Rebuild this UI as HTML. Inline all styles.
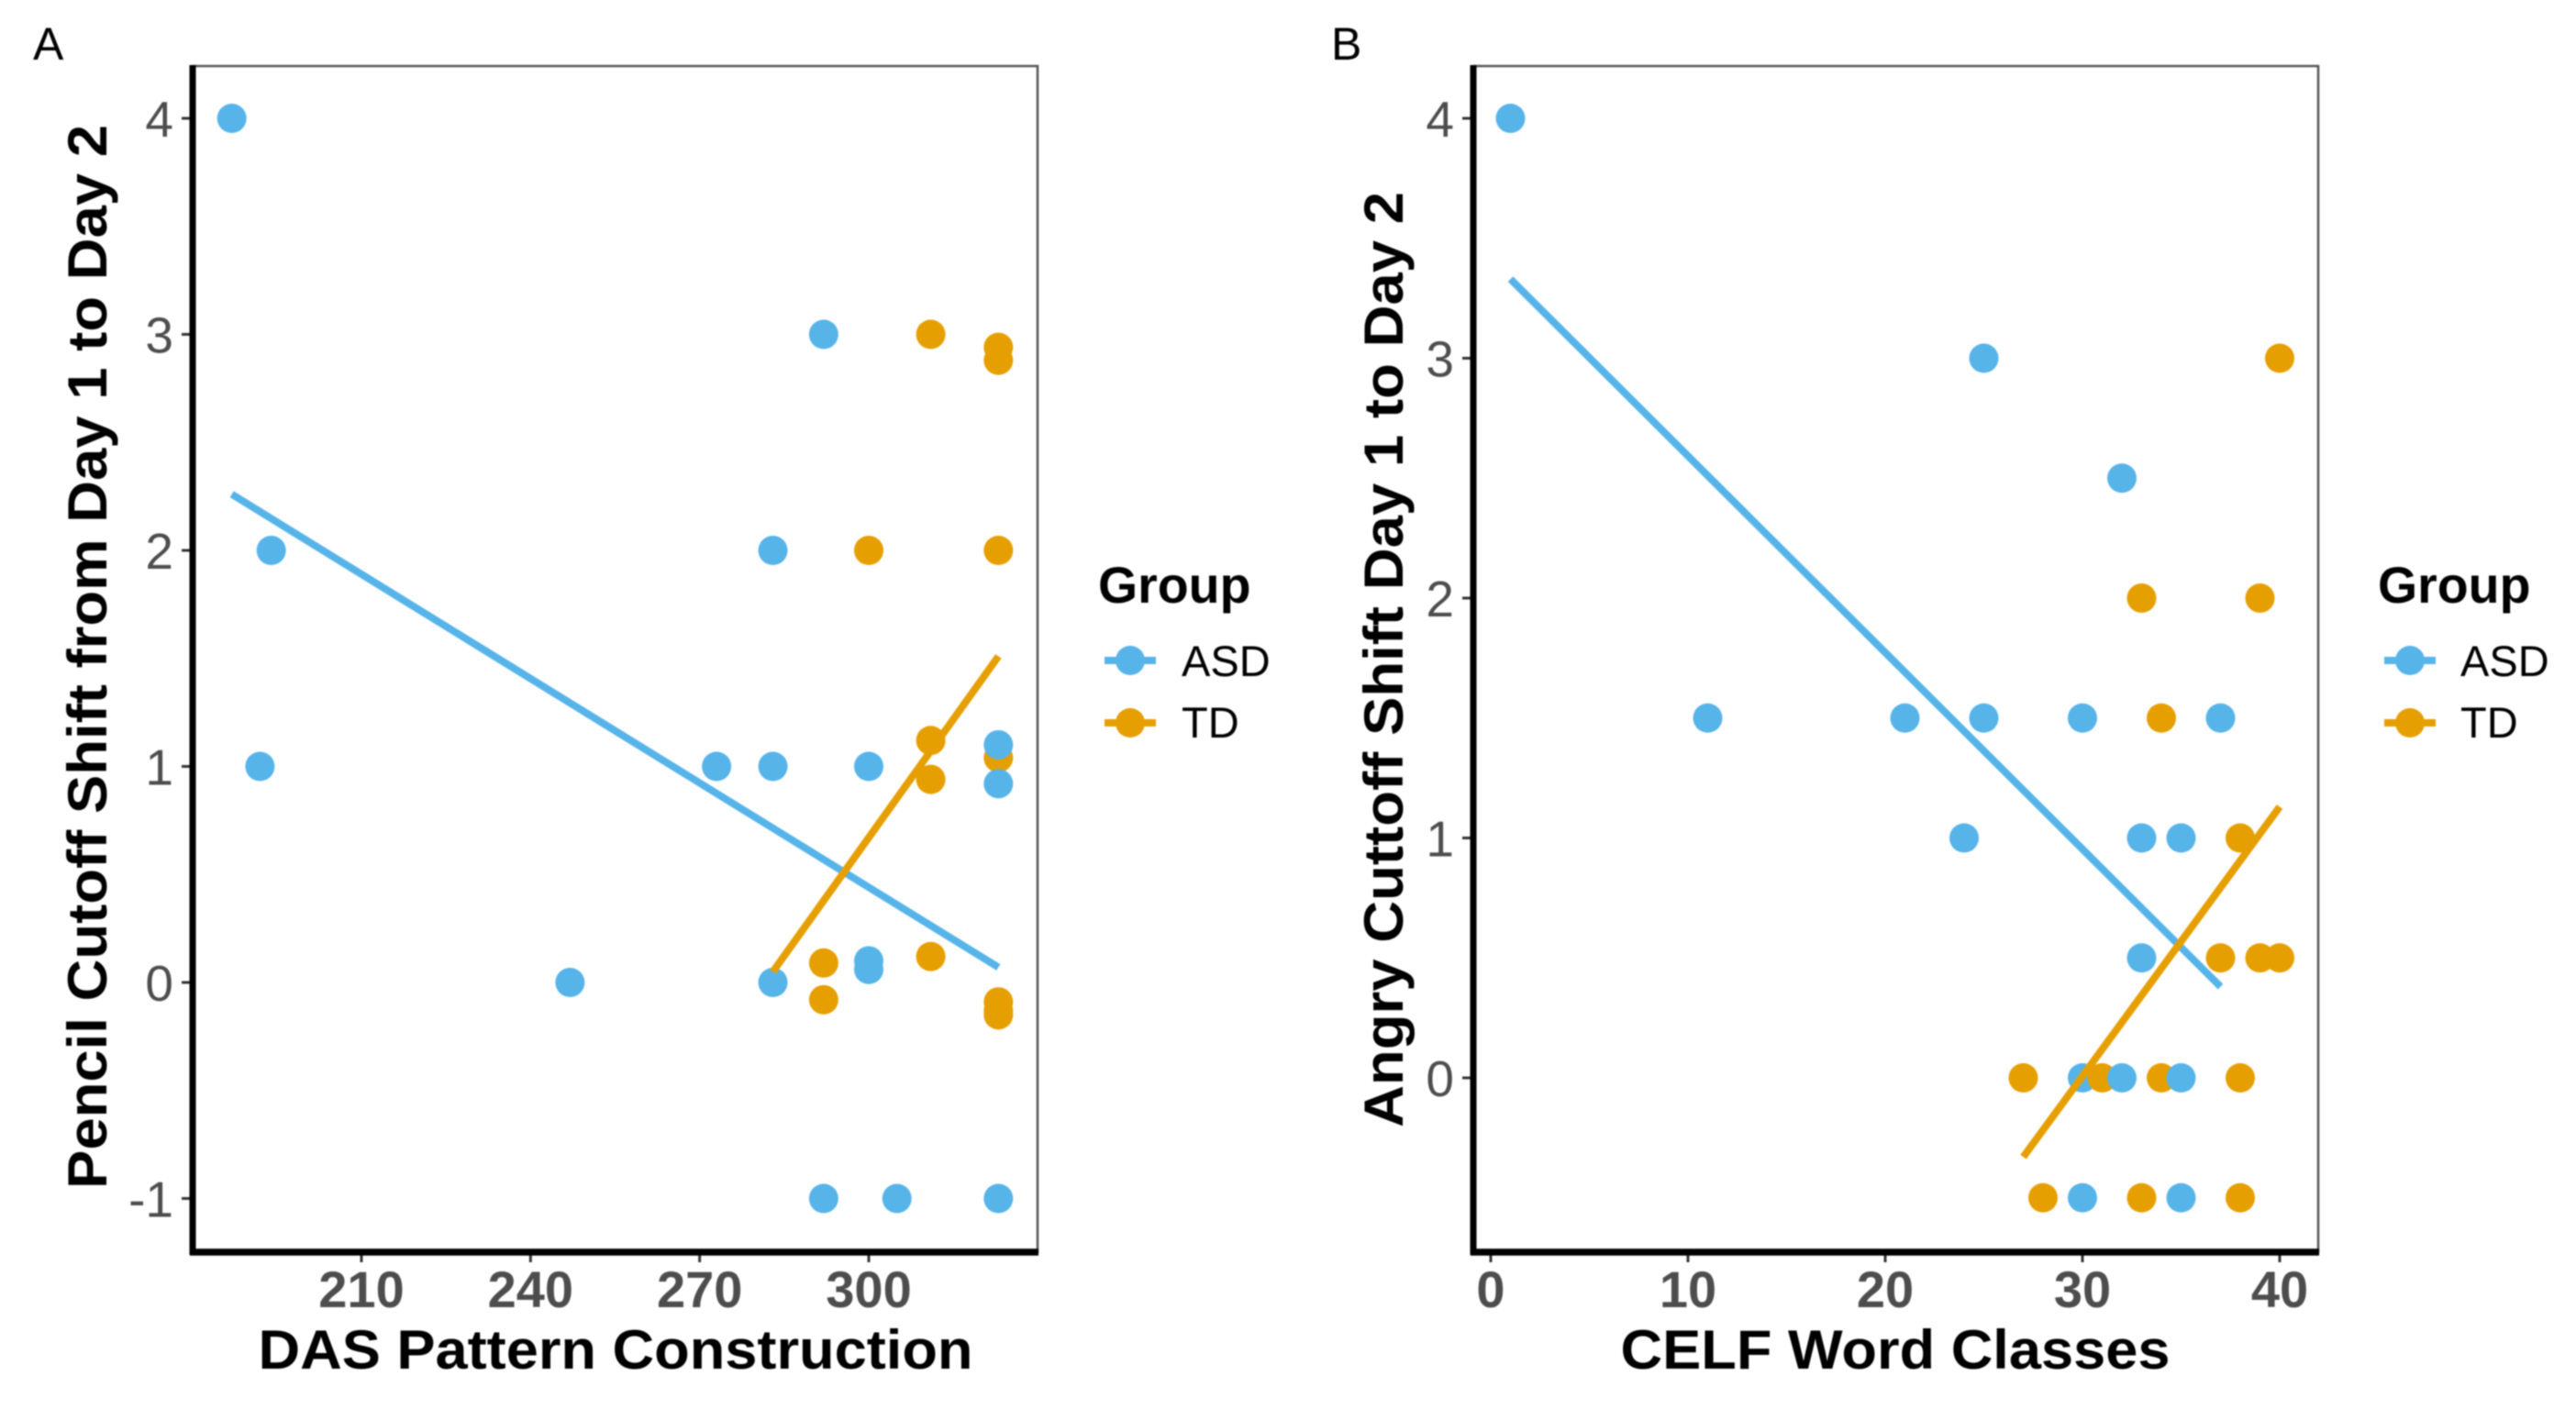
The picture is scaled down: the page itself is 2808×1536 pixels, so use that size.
<!DOCTYPE html>
<html>
<head>
<meta charset="utf-8">
<title>Cutoff shift scatter plots</title>
<style>
  html, body { margin: 0; padding: 0; background: #ffffff; }
  body { width: 2808px; height: 1536px; overflow: hidden; }
  svg { display: block; filter: blur(0.9px); }
  text { font-family: "Liberation Sans", sans-serif; }
  .title { font-weight: bold; fill: #000; }
  .panel-letter { font-size: 50px; fill: #000; }
  .legend-title { font-size: 55.5px; font-weight: bold; fill: #000; }
  .legend-label { font-size: 47px; fill: #000; }
  .ytick { font-size: 55px; fill: #4d4d4d; text-anchor: end; }
  .xtick { font-size: 56px; font-weight: bold; fill: #4d4d4d; text-anchor: middle; }
</style>
</head>
<body>
<svg id="figure" xmlns="http://www.w3.org/2000/svg" width="2808" height="1536" viewBox="0 0 2808 1536">
  <rect x="0" y="0" width="2808" height="1536" fill="#ffffff"/>

  <text class="panel-letter" x="36" y="65">A</text>
  <text class="panel-letter" x="1451" y="65">B</text>

  <g id="panel-a"></g>
  <g id="panel-b"></g>

  <text class="title" x="671" y="1492" font-size="60" text-anchor="middle" textLength="779" lengthAdjust="spacingAndGlyphs">DAS Pattern Construction</text>
  <text class="title" x="2066" y="1492" font-size="60" text-anchor="middle" textLength="599" lengthAdjust="spacingAndGlyphs">CELF Word Classes</text>
  <text class="title" transform="translate(116,716) rotate(-90)" font-size="60" text-anchor="middle" textLength="1160" lengthAdjust="spacingAndGlyphs">Pencil Cutoff Shift from Day 1 to Day 2</text>
  <text class="title" transform="translate(1529,719) rotate(-90)" font-size="60" text-anchor="middle" textLength="1020" lengthAdjust="spacingAndGlyphs">Angry Cuttoff Shift Day 1 to Day 2</text>

  <g>
    <text class="legend-title" x="1197" y="657">Group</text>
    <g>
      <line x1="1204" y1="720" x2="1260" y2="720" stroke="#56b4e9" stroke-width="8"/>
      <circle cx="1232" cy="720" r="16" fill="#56b4e9"/>
      <text class="legend-label" x="1288" y="737">ASD</text>
    </g>
    <g>
      <line x1="1204" y1="788" x2="1260" y2="788" stroke="#e69f00" stroke-width="8"/>
      <circle cx="1232" cy="788" r="16" fill="#e69f00"/>
      <text class="legend-label" x="1288" y="804">TD</text>
    </g>
  </g>
  <g>
    <text class="legend-title" x="2592" y="657">Group</text>
    <g>
      <line x1="2599" y1="720" x2="2655" y2="720" stroke="#56b4e9" stroke-width="8"/>
      <circle cx="2627" cy="720" r="16" fill="#56b4e9"/>
      <text class="legend-label" x="2682" y="737">ASD</text>
    </g>
    <g>
      <line x1="2599" y1="788" x2="2655" y2="788" stroke="#e69f00" stroke-width="8"/>
      <circle cx="2627" cy="788" r="16" fill="#e69f00"/>
      <text class="legend-label" x="2682" y="804">TD</text>
    </g>
  </g>
</svg>

<script>
// ---- Chart data (points are listed in draw order) ----
const panelAXTicks = [210, 240, 270, 300];
const panelAYTicks = [-1, 0, 1, 2, 3, 4];
const panelAGroups = ['ASD','ASD','ASD','ASD','ASD','ASD','ASD','ASD','ASD','TD','TD','TD','TD','TD','TD','TD','TD','ASD','TD','TD','TD','ASD','ASD','ASD','ASD','ASD','ASD','ASD','TD','TD','TD'];
const panelAXValues = [187,194,192,292,283,273,283,300,247,311,323,323,300,323,311,311,323,323,292,292,311,283,300,300,292,305,323,323,323,323,323];
const panelAYValues = [4,2,1,3,2,1,1,1,0,3,2.94,2.88,2,2,1.12,0.94,1.04,1.1,0.09,-0.08,0.12,0,0.1,0.06,-1,-1,-1,0.92,-0.09,-0.13,-0.15];
const panelAAsdFitX = [187, 323];
const panelAAsdFitY = [2.26, 0.07];
const panelATdFitX = [283, 323];
const panelATdFitY = [0.05, 1.51];

const panelBXTicks = [0, 10, 20, 30, 40];
const panelBYTicks = [0, 1, 2, 3, 4];
const panelBGroups = ['TD','TD','TD','TD','TD','TD','TD','TD','ASD','ASD','ASD','ASD','ASD','ASD','ASD','ASD','ASD','ASD','ASD','ASD','TD','ASD','TD','TD','TD','ASD','ASD','TD','TD','TD','ASD','ASD'];
const panelBXValues = [40,33,39,34,38,37,39,40,1,25,32,11,21,25,30,37,24,33,35,33,27,30,31,34,38,32,35,28,33,38,30,35];
const panelBYValues = [3,2,2,1.5,1,0.5,0.5,0.5,4,3,2.5,1.5,1.5,1.5,1.5,1.5,1,1,1,0.5,0,0,0,0,0,0,0,-0.5,-0.5,-0.5,-0.5,-0.5];
const panelBAsdFitX = [1, 37];
const panelBAsdFitY = [3.33, 0.38];
const panelBTdFitX = [27, 40];
const panelBTdFitY = [-0.33, 1.13];

const groupColors = { ASD: '#56b4e9', TD: '#e69f00' };
const SVG_NS = 'http://www.w3.org/2000/svg';

function linearScale(d0, d1, r0, r1) {
  return function (v) { return r0 + (v - d0) * (r1 - r0) / (d1 - d0); };
}

function make(parent, tag, attrs) {
  const el = document.createElementNS(SVG_NS, tag);
  Object.keys(attrs).forEach(function (k) { el.setAttribute(k, attrs[k]); });
  parent.appendChild(el);
  return el;
}

function drawPanel(cfg) {
  const g = document.getElementById(cfg.id);
  const b = cfg.box;

  const panelBg = make(g, 'rect', { x: b.left, y: b.top, width: b.right - b.left, height: b.bottom - b.top, fill: '#ffffff', stroke: '#555555', 'stroke-width': 2.5 });
  
  

  cfg.xTicks.forEach(function (t) {
    const mark = make(g, 'line', { x1: cfg.x(t), x2: cfg.x(t), y1: b.bottom, y2: b.bottom + 11, stroke: '#333333', 'stroke-width': 3 });
    
    
    const label = make(g, 'text', { x: cfg.x(t), y: 1425, class: 'xtick' });
    
    
    label.textContent = String(t);
  });

  cfg.yTicks.forEach(function (t) {
    const mark = make(g, 'line', { x1: b.left - 12, x2: b.left, y1: cfg.y(t), y2: cfg.y(t), stroke: '#333333', 'stroke-width': 3 });
    
    
    const label = make(g, 'text', { x: b.left - 21, y: cfg.y(t) + 20, class: 'ytick' });
    
    
    label.textContent = String(t);
  });

  const leftAxis = make(g, 'line', { x1: b.left, x2: b.left, y1: b.top - 1, y2: b.bottom + 3, stroke: '#000000', 'stroke-width': 7 });
  
  
  const bottomAxis = make(g, 'line', { x1: b.left - 3, x2: b.right + 1, y1: b.bottom, y2: b.bottom, stroke: '#000000', 'stroke-width': 7.5 });
  
  

  cfg.xValues.forEach(function (xv, i) {
    const group = cfg.groups[i];
    const dot = make(g, 'circle', { cx: cfg.x(xv), cy: cfg.y(cfg.yValues[i]), r: 16, fill: groupColors[group] });
    
    
  });

  const asdFit = make(g, 'line', { x1: cfg.x(cfg.asdFitX[0]), y1: cfg.y(cfg.asdFitY[0]), x2: cfg.x(cfg.asdFitX[1]), y2: cfg.y(cfg.asdFitY[1]), stroke: groupColors.ASD, 'stroke-width': 8 });
  
  
  const tdFit = make(g, 'line', { x1: cfg.x(cfg.tdFitX[0]), y1: cfg.y(cfg.tdFitY[0]), x2: cfg.x(cfg.tdFitX[1]), y2: cfg.y(cfg.tdFitY[1]), stroke: groupColors.TD, 'stroke-width': 8 });
  
  
}

drawPanel({
  id: 'panel-a',
  box: { left: 210, right: 1131, top: 72, bottom: 1365 },
  x: linearScale(210, 300, 394, 947),
  y: linearScale(0, 4, 1071, 129),
  xTicks: panelAXTicks,
  yTicks: panelAYTicks,
  groups: panelAGroups,
  xValues: panelAXValues,
  yValues: panelAYValues,
  asdFitX: panelAAsdFitX,
  asdFitY: panelAAsdFitY,
  tdFitX: panelATdFitX,
  tdFitY: panelATdFitY
});

drawPanel({
  id: 'panel-b',
  box: { left: 1606, right: 2527, top: 72, bottom: 1365 },
  x: linearScale(0, 40, 1625, 2485),
  y: linearScale(0, 4, 1175, 129),
  xTicks: panelBXTicks,
  yTicks: panelBYTicks,
  groups: panelBGroups,
  xValues: panelBXValues,
  yValues: panelBYValues,
  asdFitX: panelBAsdFitX,
  asdFitY: panelBAsdFitY,
  tdFitX: panelBTdFitX,
  tdFitY: panelBTdFitY
});
</script>
</body>
</html>
